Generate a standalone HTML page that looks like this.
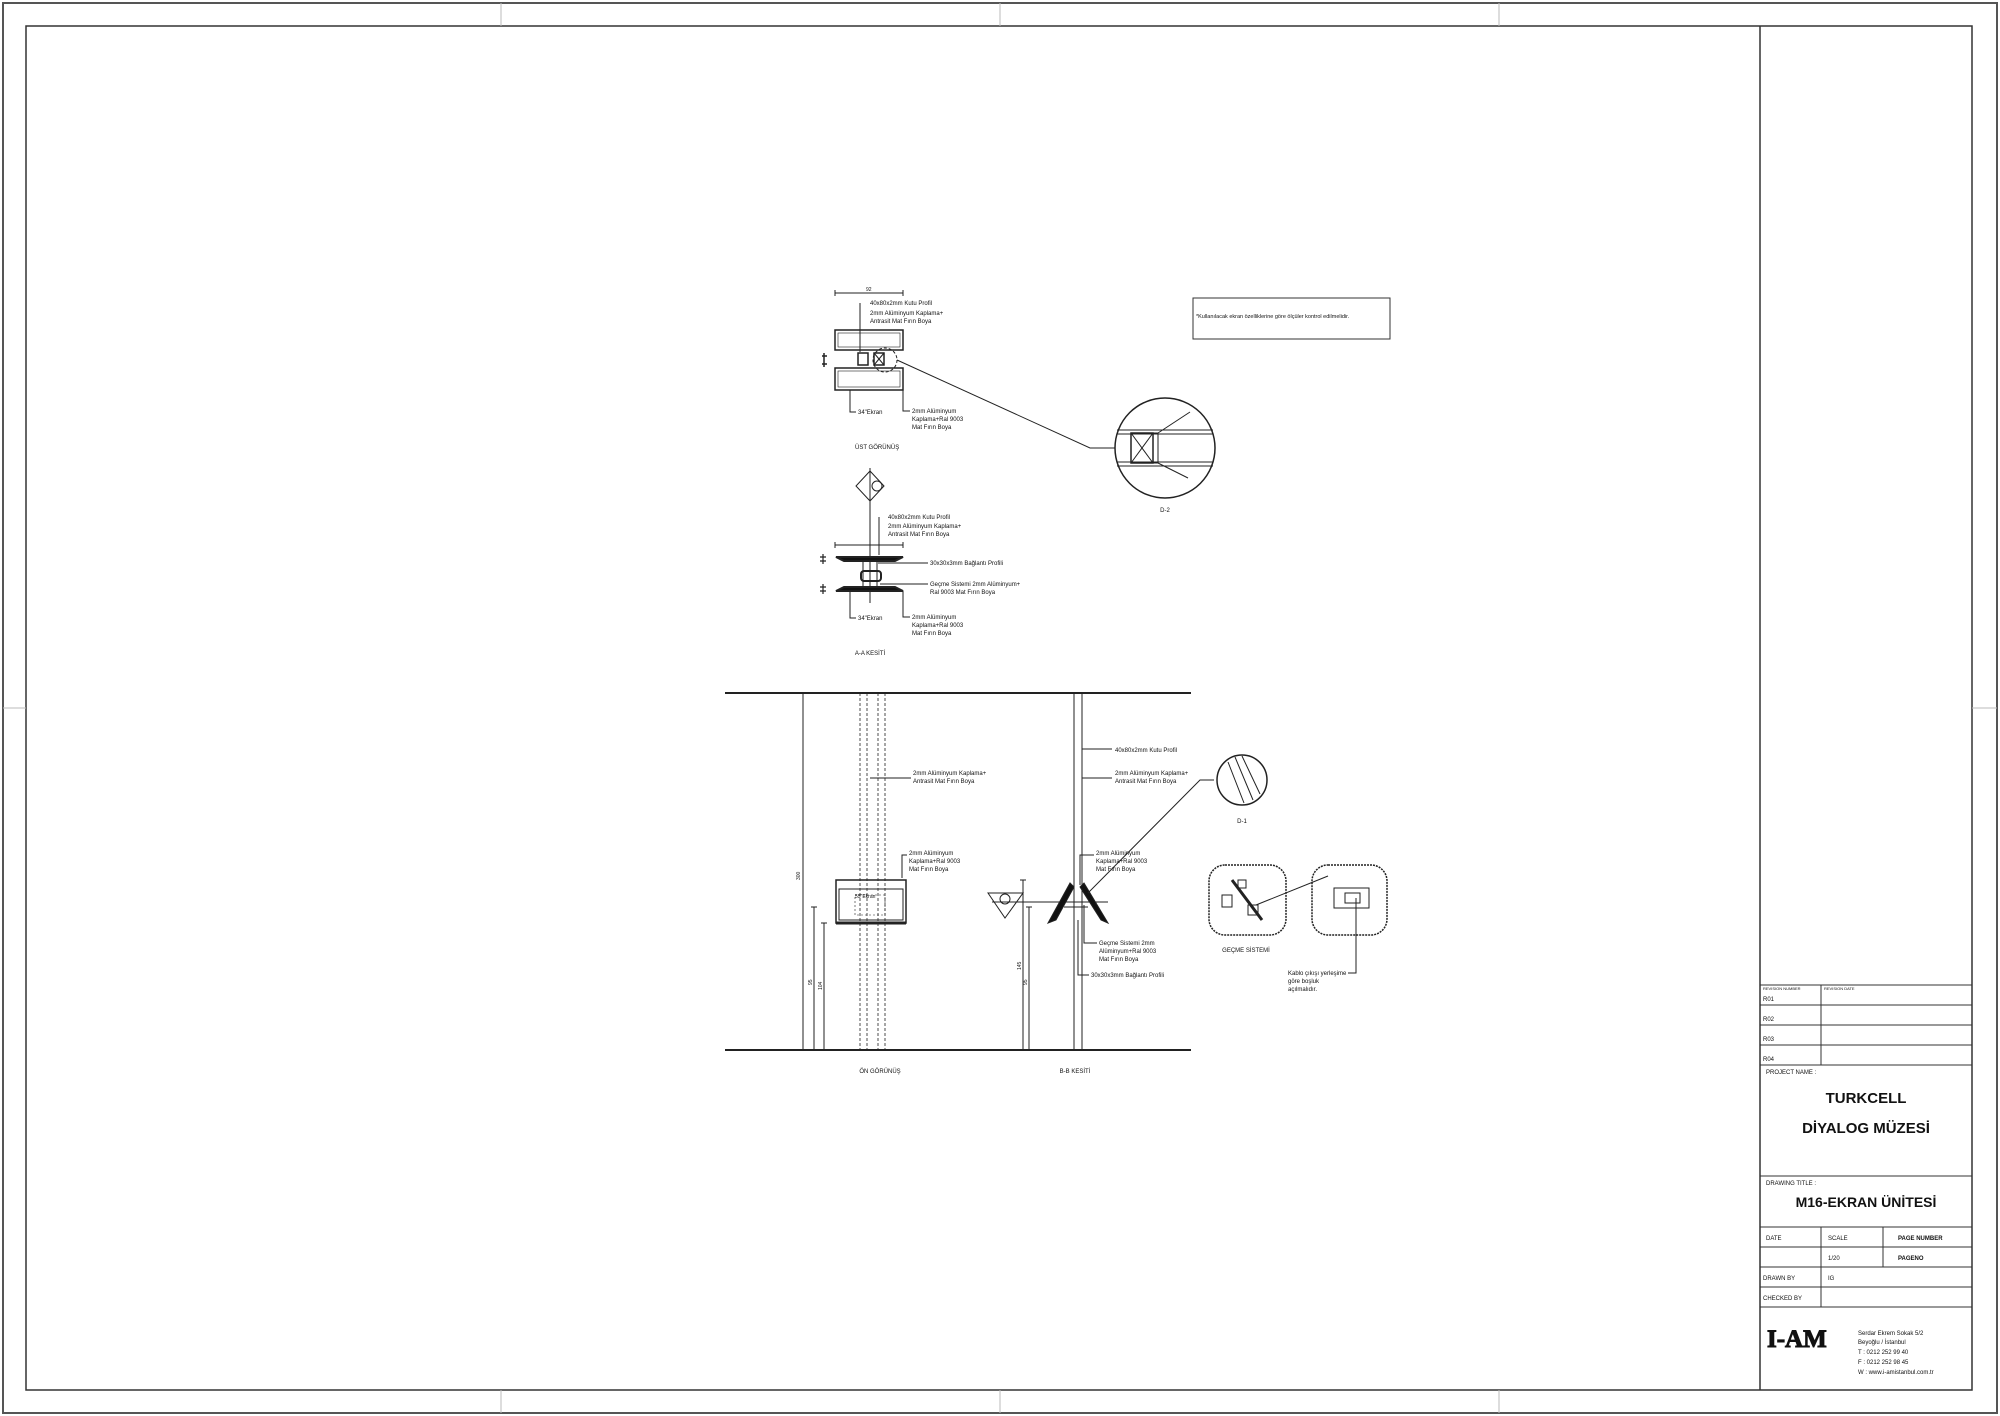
<!DOCTYPE html>
<html><head><meta charset="utf-8">
<style>
html,body{margin:0;padding:0;background:#fff;}
svg{display:block;}
text{font-family:"Liberation Sans",sans-serif;fill:#111;}
.s{font-size:6px;}
</style></head>
<body>
<svg width="2000" height="1416" viewBox="0 0 2000 1416" xmlns="http://www.w3.org/2000/svg">
<rect x="0" y="0" width="2000" height="1416" fill="#fff"/>
<rect x="3" y="3" width="1994" height="1410" fill="none" stroke="#555" stroke-width="2"/>
<rect x="26" y="26" width="1946" height="1364" fill="none" stroke="#333" stroke-width="1.5"/>
<line x1="1760" y1="26" x2="1760" y2="1390" stroke="#333" stroke-width="1.5"/>
<g stroke="#bbb" stroke-width="1">
<line x1="501" y1="3" x2="501" y2="26"/><line x1="1000" y1="3" x2="1000" y2="26"/><line x1="1499" y1="3" x2="1499" y2="26"/>
<line x1="501" y1="1390" x2="501" y2="1413"/><line x1="1000" y1="1390" x2="1000" y2="1413"/><line x1="1499" y1="1390" x2="1499" y2="1413"/>
<line x1="3" y1="708" x2="26" y2="708"/><line x1="1972" y1="708" x2="1997" y2="708"/>
</g>
<g stroke="#333" stroke-width="1" fill="none">
<line x1="1760" y1="985" x2="1972" y2="985"/>
<line x1="1760" y1="1005" x2="1972" y2="1005"/>
<line x1="1760" y1="1025" x2="1972" y2="1025"/>
<line x1="1760" y1="1045" x2="1972" y2="1045"/>
<line x1="1760" y1="1065" x2="1972" y2="1065"/>
<line x1="1821" y1="985" x2="1821" y2="1065"/>
<line x1="1760" y1="1176" x2="1972" y2="1176"/>
<line x1="1760" y1="1227" x2="1972" y2="1227"/>
<line x1="1760" y1="1247" x2="1972" y2="1247"/>
<line x1="1760" y1="1267" x2="1972" y2="1267"/>
<line x1="1760" y1="1287" x2="1972" y2="1287"/>
<line x1="1760" y1="1307" x2="1972" y2="1307"/>
<line x1="1821" y1="1227" x2="1821" y2="1307"/>
<line x1="1883" y1="1227" x2="1883" y2="1267"/>
<line x1="1972" y1="985" x2="1972" y2="1390"/>
</g>
<text x="1763" y="990" style="font-size:4px">REVISION NUMBER</text>
<text x="1824" y="990" style="font-size:4px">REVISION DATE</text>
<text x="1763" y="1001" class="s">R01</text>
<text x="1763" y="1021" class="s">R02</text>
<text x="1763" y="1041" class="s">R03</text>
<text x="1763" y="1061" class="s">R04</text>
<text x="1766" y="1074" class="s">PROJECT NAME :</text>
<text x="1866" y="1103" text-anchor="middle" style="font-size:15px;font-weight:bold">TURKCELL</text>
<text x="1866" y="1133" text-anchor="middle" style="font-size:15px;font-weight:bold">DİYALOG MÜZESİ</text>
<text x="1766" y="1185" class="s">DRAWING TITLE :</text>
<text x="1866" y="1207" text-anchor="middle" style="font-size:14px;font-weight:bold">M16-EKRAN ÜNİTESİ</text>
<text x="1766" y="1240" class="s">DATE</text>
<text x="1828" y="1240" class="s">SCALE</text>
<text x="1898" y="1240" class="s" style="font-weight:bold">PAGE NUMBER</text>
<text x="1828" y="1260" class="s">1/20</text>
<text x="1898" y="1260" class="s" style="font-weight:bold">PAGENO</text>
<text x="1763" y="1280" class="s">DRAWN BY</text>
<text x="1828" y="1280" class="s">IG</text>
<text x="1763" y="1300" class="s">CHECKED BY</text>
<text x="1767" y="1347" style="font-family:'Liberation Serif',serif;font-size:25px;font-weight:bold;letter-spacing:0px" stroke="#111" stroke-width="1">I-AM</text>
<text x="1858" y="1335" class="s">Serdar Ekrem Sokak 5/2</text>
<text x="1858" y="1344" class="s">Beyoğlu / İstanbul</text>
<text x="1858" y="1354" class="s">T  :  0212 252 99 40</text>
<text x="1858" y="1364" class="s">F  : 0212 252 98 45</text>
<text x="1858" y="1374" class="s">W : www.i-amistanbul.com.tr</text>

<rect x="1193" y="298" width="197" height="41" fill="none" stroke="#333"/>
<text x="1196" y="318" style="font-size:5.5px">*Kullanılacak ekran özelliklerine göre ölçüler kontrol edilmelidir.</text>

<!-- UST GORUNUS -->
<g stroke="#222" fill="none" stroke-width="1">
<line x1="835" y1="293" x2="903" y2="293"/><line x1="835" y1="290" x2="835" y2="296"/><line x1="903" y1="290" x2="903" y2="296"/>
<rect x="835" y="330" width="68" height="20" stroke-width="1.5"/>
<rect x="838" y="333" width="62" height="14" stroke-width="0.6"/>
<rect x="835" y="368" width="68" height="22" stroke-width="1.5"/>
<rect x="838" y="371" width="62" height="16" stroke-width="0.6"/>
<rect x="858" y="353" width="10" height="12" stroke-width="1.5"/>
<rect x="874" y="353" width="10" height="12" stroke-width="1.5"/>
<line x1="874" y1="353" x2="884" y2="365"/><line x1="884" y1="353" x2="874" y2="365"/>
<circle cx="885" cy="360" r="12" stroke-dasharray="3,2"/>
<polyline points="860,303 860,352"/>
<polyline points="897,360 1090,448 1115,448"/>
<polyline points="850,390 850,412 856,412"/>
<polyline points="903,390 903,411 910,411"/>
<path d="M827 356 l-5 0 M827 364 l-5 0 M824 353 l0 14" stroke-width="1.5"/>
<circle cx="1165" cy="448" r="50" stroke-width="1.5"/>
<line x1="1117" y1="430" x2="1213" y2="430"/><line x1="1117" y1="434" x2="1213" y2="434"/>
<line x1="1117" y1="462" x2="1213" y2="462"/><line x1="1117" y1="466" x2="1213" y2="466"/>
<rect x="1131" y="433" width="22" height="30" stroke-width="1.5"/>
<rect x="1153" y="433" width="5" height="30"/>
<line x1="1131" y1="433" x2="1153" y2="463"/><line x1="1153" y1="433" x2="1131" y2="463"/>
<line x1="1158" y1="433" x2="1190" y2="412"/><line x1="1158" y1="463" x2="1188" y2="478"/>
</g>
<text x="870" y="305" class="s">40x80x2mm Kutu Profil</text>
<text x="870" y="315" class="s">2mm Alüminyum Kaplama+</text>
<text x="870" y="323" class="s">Antrasit Mat Fırın Boya</text>
<text x="866" y="291" style="font-size:5px">92</text>
<text x="858" y="414" class="s">34"Ekran</text>
<text x="912" y="413" class="s">2mm Alüminyum</text>
<text x="912" y="421" class="s">Kaplama+Ral 9003</text>
<text x="912" y="429" class="s">Mat Fırın Boya</text>
<text x="855" y="449" class="s">ÜST GÖRÜNÜŞ</text>
<text x="1165" y="512" text-anchor="middle" class="s">D-2</text>

<!-- A-A KESITI -->
<g stroke="#222" fill="none" stroke-width="1">
<polygon points="870,471 884,486 870,501 856,486"/>
<circle cx="877" cy="486" r="5"/>
<line x1="870" y1="468" x2="870" y2="603"/>
<line x1="835" y1="545" x2="903" y2="545"/><line x1="835" y1="542" x2="835" y2="548"/><line x1="903" y1="542" x2="903" y2="548"/>
<path d="M836 557 L903 557 L895 561 L844 561 Z" fill="#111" stroke-width="2"/>
<path d="M836 591 L903 591 L895 587 L844 587 Z" fill="#111" stroke-width="2"/>
<rect x="861" y="571" width="20" height="10" rx="3" stroke-width="2"/>
<line x1="863" y1="561" x2="863" y2="587"/><line x1="877" y1="561" x2="877" y2="587"/>
<polyline points="879,517 879,555"/>
<line x1="878" y1="563" x2="928" y2="563"/>
<line x1="880" y1="584" x2="928" y2="584"/>
<polyline points="850,591 850,618 856,618"/>
<polyline points="903,591 903,617 910,617"/>
<path d="M826 557 l-6 0 M826 561 l-6 0 M826 587 l-6 0 M826 591 l-6 0 M823 554 l0 10 M823 584 l0 10" stroke-width="1.2"/>
</g>
<text x="888" y="519" class="s">40x80x2mm Kutu Profil</text>
<text x="888" y="528" class="s">2mm Alüminyum Kaplama+</text>
<text x="888" y="536" class="s">Antrasit Mat Fırın Boya</text>
<text x="930" y="565" class="s">30x30x3mm Bağlantı Profili</text>
<text x="930" y="586" class="s">Geçme Sistemi 2mm Alüminyum+</text>
<text x="930" y="594" class="s">Ral 9003 Mat Fırın Boya</text>
<text x="858" y="620" class="s">34"Ekran</text>
<text x="912" y="619" class="s">2mm Alüminyum</text>
<text x="912" y="627" class="s">Kaplama+Ral 9003</text>
<text x="912" y="635" class="s">Mat Fırın Boya</text>
<text x="870" y="655" text-anchor="middle" class="s">A-A KESİTİ</text>

<!-- ON GORUNUS / B-B -->
<g stroke="#222" fill="none" stroke-width="1">
<line x1="725" y1="693" x2="1191" y2="693" stroke-width="2"/>
<line x1="725" y1="1050" x2="1191" y2="1050" stroke-width="2"/>
<line x1="803" y1="693" x2="803" y2="1050"/>
<g stroke-dasharray="3,2" stroke-width="0.8">
<line x1="860" y1="693" x2="860" y2="1050"/><line x1="867" y1="693" x2="867" y2="1050"/>
<line x1="878" y1="693" x2="878" y2="1050"/><line x1="885" y1="693" x2="885" y2="1050"/>
</g>
<rect x="836" y="880" width="70" height="43" stroke-width="1.5"/>
<rect x="839" y="889" width="64" height="31"/>
<line x1="836" y1="923" x2="906" y2="923" stroke-width="3"/>
<rect x="855" y="895" width="30" height="20" stroke-dasharray="2,2" stroke-width="0.6"/>
<line x1="814" y1="907" x2="814" y2="1050"/><line x1="811" y1="907" x2="817" y2="907"/>
<line x1="824" y1="923" x2="824" y2="1050"/><line x1="821" y1="923" x2="827" y2="923"/>
<line x1="870" y1="778" x2="911" y2="778"/>
<polyline points="902,878 902,855 907,855"/>
<!-- B-B -->
<line x1="1074" y1="693" x2="1074" y2="1050"/>
<line x1="1082" y1="693" x2="1082" y2="1050"/>
<line x1="1023" y1="880" x2="1023" y2="1050"/><line x1="1020" y1="880" x2="1026" y2="880"/>
<line x1="1029" y1="907" x2="1029" y2="1050"/><line x1="1026" y1="907" x2="1032" y2="907"/>
<polygon points="988,893 1023,893 1005,918"/>
<circle cx="1005" cy="899" r="5"/>
<line x1="992" y1="902" x2="1108" y2="902"/>
<path d="M1070 883 L1048 923 L1056 920 L1074 887 Z" fill="#111"/>
<path d="M1084 883 L1108 923 L1101 920 L1080 887 Z" fill="#111"/>
<line x1="1064" y1="907" x2="1088" y2="907"/>
<line x1="1082" y1="749" x2="1112" y2="749"/>
<line x1="1082" y1="778" x2="1112" y2="778"/>
<polyline points="1080,885 1080,855 1094,855"/>
<polyline points="1088,893 1200,780 1214,780"/>
<polyline points="1084,905 1084,943 1097,943"/>
<polyline points="1078,920 1078,975 1089,975"/>
<ellipse cx="1242" cy="780" rx="25" ry="25" stroke-width="1.5"/>
<line x1="1228" y1="762" x2="1244" y2="803"/><line x1="1235" y1="757" x2="1253" y2="800"/><line x1="1242" y1="756" x2="1260" y2="794"/>
<rect x="1209" y="865" width="77" height="70" rx="16" stroke-dasharray="2,1" stroke-width="1.5"/>
<rect x="1312" y="865" width="75" height="70" rx="16" stroke-dasharray="2,1" stroke-width="1.5"/>
<line x1="1232" y1="880" x2="1262" y2="920" stroke-width="3"/>
<rect x="1222" y="895" width="10" height="12"/>
<rect x="1248" y="905" width="10" height="10"/>
<rect x="1238" y="880" width="8" height="8"/>
<line x1="1256" y1="905" x2="1328" y2="876"/>
<rect x="1334" y="888" width="35" height="20"/>
<rect x="1345" y="893" width="15" height="10"/>
<polyline points="1356,898 1356,973 1348,973"/>
</g>
<text x="800" y="880" transform="rotate(-90 800 880)" style="font-size:5px">300</text>
<text x="812" y="985" transform="rotate(-90 812 985)" style="font-size:5px">95</text>
<text x="822" y="990" transform="rotate(-90 822 990)" style="font-size:5px">104</text>
<text x="1021" y="970" transform="rotate(-90 1021 970)" style="font-size:5px">145</text>
<text x="1027" y="985" transform="rotate(-90 1027 985)" style="font-size:5px">95</text>
<text x="855" y="898" style="font-size:5px">55"Ekran</text>
<text x="913" y="775" class="s">2mm Alüminyum Kaplama+</text>
<text x="913" y="783" class="s">Antrasit Mat Fırın Boya</text>
<text x="909" y="855" class="s">2mm Alüminyum</text>
<text x="909" y="863" class="s">Kaplama+Ral 9003</text>
<text x="909" y="871" class="s">Mat Fırın Boya</text>
<text x="1115" y="752" class="s">40x80x2mm Kutu Profil</text>
<text x="1115" y="775" class="s">2mm Alüminyum Kaplama+</text>
<text x="1115" y="783" class="s">Antrasit Mat Fırın Boya</text>
<text x="1096" y="855" class="s">2mm Alüminyum</text>
<text x="1096" y="863" class="s">Kaplama+Ral 9003</text>
<text x="1096" y="871" class="s">Mat Fırın Boya</text>
<text x="1099" y="945" class="s">Geçme Sistemi 2mm</text>
<text x="1099" y="953" class="s">Alüminyum+Ral 9003</text>
<text x="1099" y="961" class="s">Mat Fırın Boya</text>
<text x="1091" y="977" class="s">30x30x3mm Bağlantı Profili</text>
<text x="1242" y="823" text-anchor="middle" class="s">D-1</text>
<text x="1246" y="952" text-anchor="middle" class="s">GEÇME SİSTEMİ</text>
<text x="1288" y="975" class="s">Kablo çıkışı yerleşime</text>
<text x="1288" y="983" class="s">göre boşluk</text>
<text x="1288" y="991" class="s">açılmalıdır.</text>
<text x="880" y="1073" text-anchor="middle" class="s">ÖN GÖRÜNÜŞ</text>
<text x="1075" y="1073" text-anchor="middle" class="s">B-B KESİTİ</text>
</svg>
</body></html>
